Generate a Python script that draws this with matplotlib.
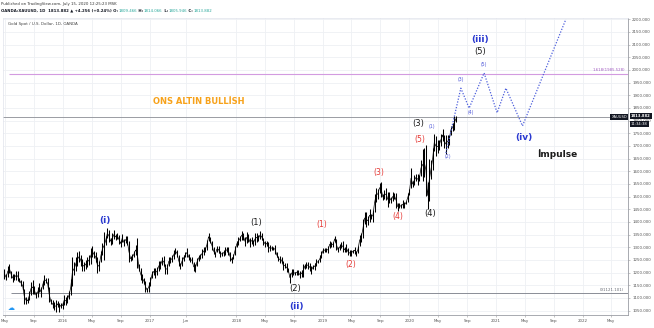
import matplotlib
matplotlib.use('Agg')
import matplotlib.pyplot as plt
import matplotlib.transforms as mtransforms
import numpy as np
import pandas as pd

# ---------------- data (weekly high / low of XAUUSD) -------------
week_start = '2015-04-27'
high_2015 = [1215, 1194, 1227, 1232, 1208, 1196, 1193, 1205, 1205, 1180, 1170, 1165, 1134, 1105,
             1098, 1126, 1162, 1169, 1146, 1125, 1142, 1157, 1142, 1166, 1191, 1178, 1179, 1142,
             1095, 1090, 1085, 1090, 1089, 1080, 1080, 1082]
low_2015 = [1175, 1169, 1182, 1200, 1180, 1162, 1170, 1172, 1168, 1162, 1148, 1131, 1077, 1077,
            1080, 1092, 1112, 1117, 1117, 1098, 1102, 1125, 1105, 1134, 1152, 1160, 1136, 1085,
            1077, 1062, 1052, 1045, 1064, 1046, 1061, 1058]
high_2016 = [1111, 1104, 1112, 1128, 1175, 1263, 1240, 1261, 1280, 1285, 1270, 1252, 1243,
             1250, 1261, 1270, 1298, 1306, 1285, 1282, 1260, 1245, 1285, 1316, 1362, 1343,
             1375, 1370, 1338, 1358, 1368, 1352, 1358, 1350, 1328, 1352, 1334, 1345, 1343,
             1326, 1265, 1272, 1284, 1308, 1338, 1235, 1220, 1195, 1180, 1165, 1140, 1163]
low_2016 = [1071, 1073, 1081, 1096, 1111, 1146, 1191, 1208, 1226, 1241, 1227, 1208, 1208,
            1215, 1224, 1229, 1233, 1261, 1258, 1241, 1200, 1205, 1240, 1270, 1250, 1309,
            1335, 1320, 1310, 1314, 1333, 1330, 1332, 1313, 1302, 1320, 1304, 1315, 1310,
            1241, 1245, 1250, 1260, 1270, 1220, 1205, 1172, 1160, 1156, 1123, 1122, 1125]
high_2017 = [1183, 1207, 1220, 1220, 1222, 1245, 1245, 1263, 1264, 1234, 1233, 1261, 1260,
             1271, 1290, 1296, 1290, 1270, 1236, 1262, 1270, 1281, 1296, 1275, 1260, 1261,
             1242, 1232, 1256, 1270, 1275, 1292, 1301, 1300, 1330, 1358, 1339, 1325, 1300,
             1283, 1306, 1306, 1285, 1283, 1290, 1300, 1300, 1300, 1280, 1262, 1273, 1305]
low_2017 = [1146, 1180, 1190, 1180, 1190, 1208, 1216, 1230, 1225, 1195, 1195, 1227, 1238,
            1240, 1252, 1275, 1262, 1226, 1214, 1228, 1246, 1260, 1263, 1250, 1240, 1238,
            1205, 1204, 1226, 1245, 1254, 1257, 1268, 1280, 1290, 1325, 1316, 1290, 1272,
            1261, 1280, 1278, 1262, 1265, 1265, 1270, 1280, 1270, 1245, 1236, 1254, 1270]
high_2018 = [1326, 1340, 1345, 1366, 1355, 1340, 1362, 1352, 1338, 1340, 1330, 1356, 1357,
             1348, 1365, 1355, 1338, 1326, 1326, 1322, 1307, 1306, 1303, 1310, 1282, 1267,
             1265, 1262, 1246, 1236, 1237, 1220, 1200, 1213, 1215, 1204, 1212, 1210, 1205,
             1210, 1233, 1235, 1243, 1243, 1237, 1225, 1230, 1238, 1252, 1250, 1268, 1284]
low_2018 = [1300, 1310, 1325, 1330, 1330, 1306, 1316, 1321, 1303, 1313, 1305, 1310, 1322,
            1323, 1331, 1330, 1310, 1302, 1304, 1282, 1285, 1288, 1290, 1275, 1261, 1245,
            1238, 1237, 1211, 1219, 1204, 1202, 1160, 1183, 1190, 1190, 1191, 1190, 1180,
            1182, 1183, 1216, 1220, 1213, 1205, 1196, 1215, 1212, 1228, 1236, 1240, 1256]
high_2019 = [1298, 1298, 1298, 1305, 1326, 1320, 1322, 1346, 1334, 1300, 1312, 1320, 1324,
             1300, 1312, 1296, 1288, 1290, 1290, 1303, 1286, 1306, 1348, 1358, 1410, 1439,
             1438, 1424, 1453, 1433, 1449, 1510, 1535, 1530, 1555, 1557, 1512, 1525, 1535,
             1519, 1518, 1497, 1518, 1516, 1515, 1475, 1475, 1470, 1485, 1479, 1481, 1515]
low_2019 = [1276, 1280, 1280, 1276, 1298, 1303, 1301, 1320, 1290, 1280, 1290, 1297, 1281,
            1280, 1282, 1270, 1266, 1266, 1278, 1274, 1266, 1276, 1306, 1322, 1336, 1392,
            1381, 1386, 1400, 1412, 1400, 1440, 1480, 1491, 1515, 1500, 1485, 1490, 1485,
            1459, 1474, 1474, 1483, 1490, 1456, 1445, 1455, 1454, 1455, 1456, 1472, 1477]
high_2020 = [1530, 1611, 1563, 1585, 1590, 1590, 1584, 1645, 1689, 1692, 1703, 1558, 1650,
             1645, 1690, 1747, 1738, 1723, 1723, 1749, 1765, 1745, 1745, 1745, 1745, 1780,
             1789, 1818, 1818]
low_2020 = [1508, 1535, 1536, 1546, 1562, 1547, 1560, 1581, 1563, 1576, 1504, 1451, 1484,
            1568, 1605, 1680, 1660, 1672, 1685, 1700, 1721, 1693, 1670, 1692, 1705, 1745,
            1757, 1762, 1796]

# projected Elliott path
proj_dates = ['2020-06-03', '2020-08-05', '2020-09-09', '2020-11-11', '2021-01-05',
              '2021-02-11', '2021-04-22', '2021-10-22']
proj_prices = [1672, 1928, 1849, 1988, 1831, 1928, 1779, 2200]

fib_top = 1985.528
fib_zero = 1121.101
last_price = 1813.882

price_ticks = np.arange(1050, 2201, 50)
time_tick_dates = ['2015-05-01', '2015-09-01', '2016-01-01', '2016-05-01', '2016-09-01',
                   '2017-01-01', '2017-06-01', '2018-01-01', '2018-05-01', '2018-09-01',
                   '2019-01-01', '2019-05-01', '2019-09-01', '2020-01-01', '2020-05-01',
                   '2020-09-01', '2021-01-01', '2021-05-01', '2021-09-01', '2022-01-01',
                   '2022-05-01']
time_tick_labels = ['May', 'Sep', '2016', 'May', 'Sep', '2017', 'Jun', '2018', 'May', 'Sep',
                    '2019', 'May', 'Sep', '2020', 'May', 'Sep', '2021', 'May', 'Sep', '2022',
                    'May']

# ---------------- figure ---------------------------------------------------------------
W, H = 654, 328
fig = plt.figure(figsize=(W / 100, H / 100), dpi=100)
fig.patch.set_facecolor('white')
ax = fig.add_axes([3 / W, 1 - 315 / H, 625 / W, 297 / H])

highs = np.array(high_2015 + high_2016 + high_2017 + high_2018 + high_2019 + high_2020)
lows = np.array(low_2015 + low_2016 + low_2017 + low_2018 + low_2019 + low_2020)
weeks = pd.date_range(week_start, periods=len(highs), freq='7D') + pd.Timedelta(days=2)

xmin, xmax = pd.Timestamp('2015-04-23'), pd.Timestamp('2022-07-11')
ax.set_xlim(xmin, xmax)
ax.set_ylim(1032.6, 2205)

# grid
for d in time_tick_dates:
    ax.axvline(pd.Timestamp(d), color='#eef0f4', lw=0.6, zorder=0)
for p in price_ticks:
    ax.axhline(p, color='#eef0f4', lw=0.6, zorder=0)

# price bars
ax.vlines(weeks, lows, highs, color='black', lw=0.75, zorder=3)
ax.plot(weeks, (highs + lows) / 2, color='black', lw=0.5, zorder=3)

# horizontal lines
ax.axhline(last_price, color='#9a9ca3', lw=0.7, zorder=2)
ax.hlines(fib_top, pd.Timestamp('2015-05-20'), xmax, color='#d39be0', lw=0.8, zorder=2)
ax.hlines(fib_zero, pd.Timestamp('2015-05-28'), xmax, color='#8a8d96', lw=0.7, zorder=2)
ax.text(pd.Timestamp('2022-07-01'), fib_top + 6, '1.618(1985.528)', color='#a05ac0',
        fontsize=2.8, ha='right', va='bottom')
ax.text(pd.Timestamp('2022-06-25'), fib_zero + 4, '0(1121.101)', color='#666a73',
        fontsize=2.8, ha='right', va='bottom')

# projection
ax.plot(pd.to_datetime(proj_dates), proj_prices, ls=(0, (1, 1.3)), color='#4d5fdc',
        lw=0.9, zorder=4)

# wave labels
blue, red, black, small = '#2a39d0', '#e53935', '#1b1b1b', '#4f58d8'
labels = [
    ('(i)', '2016-06-25', 1404, blue, 6.5, 'bold'),
    ('(ii)', '2018-09-12', 1065, blue, 6.5, 'bold'),
    ('(iii)', '2020-10-26', 2122, blue, 6.5, 'bold'),
    ('(iv)', '2021-04-29', 1735, blue, 6.5, 'bold'),
    ('(1)', '2018-03-26', 1398, black, 6, 'normal'),
    ('(2)', '2018-09-04', 1139, black, 6, 'normal'),
    ('(3)', '2020-02-09', 1787, black, 6, 'normal'),
    ('(4)', '2020-03-28', 1435, black, 6, 'normal'),
    ('(5)', '2020-10-26', 2071, black, 6, 'normal'),
    ('(1)', '2018-12-29', 1388, red, 5.5, 'normal'),
    ('(2)', '2019-04-30', 1233, red, 5.5, 'normal'),
    ('(3)', '2019-08-27', 1594, red, 5.5, 'normal'),
    ('(4)', '2019-11-15', 1421, red, 5.5, 'normal'),
    ('(5)', '2020-02-12', 1726, red, 5.5, 'normal'),
    ('(1)', '2020-04-05', 1776, small, 3.3, 'normal'),
    ('(2)', '2020-06-13', 1658, small, 3.3, 'normal'),
    ('(3)', '2020-08-05', 1964, small, 3.3, 'normal'),
    ('(4)', '2020-09-16', 1830, small, 3.3, 'normal'),
    ('(5)', '2020-11-11', 2020, small, 3.3, 'normal'),
    ('İmpulse', '2021-09-15', 1668, black, 6.5, 'bold'),
    ('ONS ALTIN BULLİSH', '2017-07-26', 1877, '#f7a21b', 6, 'bold'),
]
for txt, d, p, c, s, w in labels:
    ax.text(pd.Timestamp(d), p, txt, color=c, fontsize=s, fontweight=w,
            ha='center', va='center', zorder=5)

# axes styling
ax.yaxis.tick_right()
ax.set_yticks(price_ticks)
ax.set_yticklabels([f'{p:.3f}' for p in price_ticks])
ax.set_xticks(pd.to_datetime(time_tick_dates))
ax.set_xticklabels(time_tick_labels)
ax.tick_params(axis='y', length=1.5, width=0.4, color='#999999', labelsize=2.9,
               pad=1.5, labelcolor='#555555')
ax.tick_params(axis='x', length=1.5, width=0.4, color='#999999', labelsize=2.9,
               pad=1.5, labelcolor='#555555')
for side in ['left', 'top']:
    ax.spines[side].set_color('#e0e3eb')
    ax.spines[side].set_linewidth(0.5)
for side in ['right', 'bottom']:
    ax.spines[side].set_color('#9a9ca3')
    ax.spines[side].set_linewidth(0.6)

# price-scale labels
bt = mtransforms.blended_transform_factory(ax.transAxes, ax.transData)
ax.text(1.0045, last_price + 3, '1813.882', transform=bt, fontsize=2.7, color='white',
        ha='left', va='center', fontweight='bold', clip_on=False,
        bbox=dict(boxstyle='square,pad=0.3', fc='#131722', ec='none'))
ax.text(1.0045, last_price - 27, '11:34:38', transform=bt, fontsize=2.7, color='white',
        ha='left', va='center', clip_on=False,
        bbox=dict(boxstyle='square,pad=0.3', fc='#131722', ec='none'))
ax.text(0.9985, last_price, 'XAUUSD', transform=bt, fontsize=2.6, color='white',
        ha='right', va='center', clip_on=False,
        bbox=dict(boxstyle='square,pad=0.3', fc='#131722', ec='none'))

# pane title
ax.text(0.008, 0.985, 'Gold Spot / U.S. Dollar, 1D, OANDA', transform=ax.transAxes,
        fontsize=2.9, color='#444444', ha='left', va='top')

# header
fig.text(1 / W, 1 - 4.5 / H, 'Published on TradingView.com, July 15, 2020 12:25:23 MSK',
         fontsize=2.8, color='#333333', ha='left', va='center')
t = fig.text(1 / W, 1 - 11 / H, 'OANDA:XAUUSD, 1D  1813.882 ▲ +4.256 (+0.24%) O:',
             fontsize=2.8, color='#131722', ha='left', va='center', fontweight='bold')
parts = [('1809.466', '#26a69a'), (' H:', '#131722'), ('1814.066', '#26a69a'),
         (' L:', '#131722'), ('1805.946', '#26a69a'), (' C:', '#131722'),
         ('1813.882', '#26a69a')]
prev = t
for s, c in parts:
    prev = ax.annotate(s, xy=(1, 0.5), xycoords=prev, xytext=(0.3, 0),
                       textcoords='offset points', fontsize=2.8, color=c,
                       ha='left', va='center', annotation_clip=False,
                       fontweight='bold' if c == '#131722' else 'normal')

# logo
fig.text(11 / W, 1 - 308 / H, '☁', color='#2196f3', fontsize=5, ha='center', va='center')

fig.savefig('out.png', dpi=100, facecolor='white')
